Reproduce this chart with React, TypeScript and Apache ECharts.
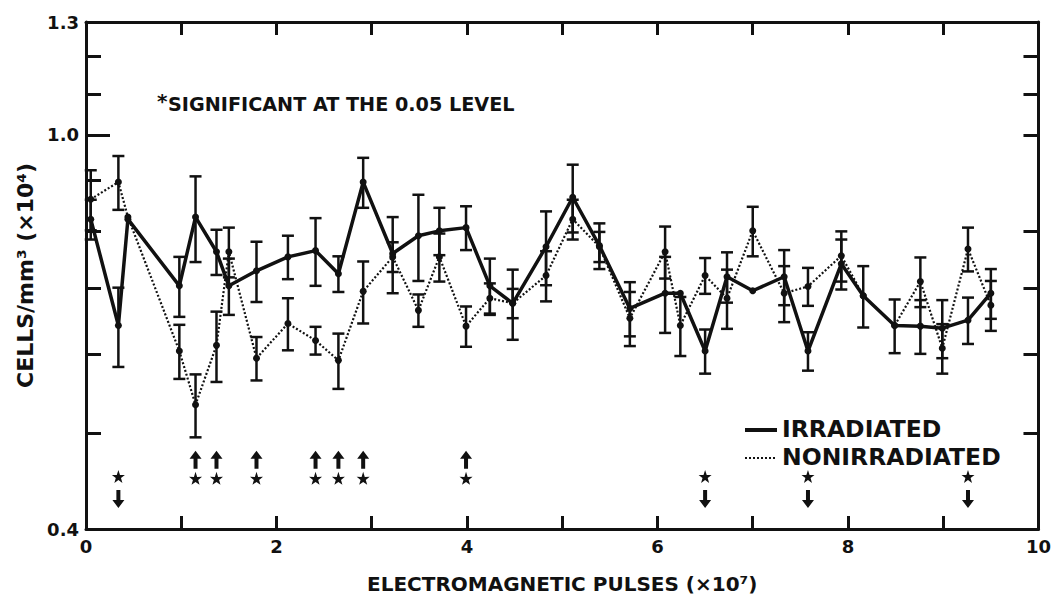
import React, { useEffect, useRef } from "react";
import * as echarts from "echarts";

// Electromagnetic pulses (x10^7)
const pulses = [0.05, 0.34, 0.44, 0.98, 1.15, 1.37, 1.5, 1.79, 2.12, 2.41, 2.65, 2.91, 3.22, 3.49, 3.71, 3.99, 4.24, 4.48, 4.83, 5.11, 5.39, 5.71, 6.08, 6.24, 6.5, 6.73, 7.0, 7.33, 7.58, 7.93, 8.16, 8.49, 8.76, 8.99, 9.26, 9.5];
// Cells/mm^3 (x10^4)
const irradiated = [0.822, 0.642, 0.822, 0.704, 0.826, 0.762, 0.704, 0.729, 0.753, 0.764, 0.724, 0.896, 0.759, 0.791, 0.8, 0.806, 0.704, 0.676, 0.771, 0.865, 0.773, 0.668, 0.692, 0.692, 0.605, 0.719, 0.696, 0.719, 0.605, 0.741, 0.688, 0.642, 0.641, 0.638, 0.65, 0.692];
const irradiatedErr = [0.038, 0.059, 0, 0.049, 0.082, 0.04, 0.046, 0.051, 0.038, 0.06, 0.03, 0.052, 0.067, 0.079, 0.044, 0.041, 0.046, 0.055, 0.066, 0.068, 0.041, 0.042, 0.061, 0, 0.031, 0.042, 0, 0.046, 0.027, 0.043, 0.049, 0.04, 0.04, 0.043, 0.035, 0.04];
const nonirradiated = [0.861, 0.896, 0.826, 0.605, 0.534, 0.613, 0.762, 0.595, 0.645, 0.62, 0.592, 0.695, 0.753, 0.665, 0.753, 0.641, 0.684, 0.676, 0.721, 0.822, 0.771, 0.653, 0.762, 0.642, 0.721, 0.684, 0.8, 0.692, 0.703, 0.755, 0.688, 0.642, 0.711, 0.609, 0.767, 0.673];
const nonirradiatedErr = [0.06, 0.056, 0, 0.038, 0.039, 0.05, 0.044, 0.03, 0.039, 0.02, 0.038, 0.05, 0.026, 0.025, 0.042, 0.03, 0.024, 0.023, 0.042, 0.038, 0.027, 0.041, 0.046, 0.044, 0.03, 0.047, 0.046, 0.045, 0.031, 0.044, 0, 0, 0.041, 0.035, 0.039, 0.039];
// significant at 0.05: irradiated higher (up) / lower (down)
const sigHigher = [1.15, 1.37, 1.79, 2.41, 2.65, 2.91, 3.99];
const sigLower = [0.34, 6.5, 7.58, 9.26];
// axis ticks
const yTickValues = [0.5, 0.6, 0.7, 0.8, 0.9, 1.1, 1.2];
const yRightTickValues = [0.5, 0.6, 0.7, 0.8, 1.0, 1.1, 1.2];
const yLabelValues = [0.4, 1.0, 1.3];

const FONT = '"DejaVu Sans", sans-serif';
const INK = "#111";

const STAR = "path://M50,0 L61.8,35.4 L97.6,34.5 L69,56.5 L79.4,90.5 L50,70 L20.6,90.5 L31,56.5 L2.4,34.5 L38.2,35.4 Z";
const ARROW = "path://M6,0 L12,8 L8,8 L8,18 L4,18 L4,8 L0,8 Z";

function errData(vals: number[], errs: number[]) {
  return pulses
    .map((x, i) => [x, vals[i] - errs[i], vals[i] + errs[i], errs[i]])
    .filter((d) => d[3] > 0);
}

const renderErr = (params: any, api: any) => {
  const x = api.value(0);
  const lo = api.value(1);
  const hi = api.value(2);
  const t = api.coord([x, hi]);
  const b = api.coord([x, lo]);
  const hw = 6;
  const st = { stroke: INK, lineWidth: 2.5 };
  return {
    type: "group",
    children: [
      { type: "line", shape: { x1: t[0], y1: t[1], x2: b[0], y2: b[1] }, style: st },
      { type: "line", shape: { x1: t[0] - hw, y1: t[1], x2: t[0] + hw, y2: t[1] }, style: st },
      { type: "line", shape: { x1: b[0] - hw, y1: b[1], x2: b[0] + hw, y2: b[1] }, style: st },
    ],
  };
};

export default function App() {
  const ref = useRef<HTMLDivElement>(null);
  useEffect(() => {
    if (!ref.current) return;
    const chart = echarts.init(ref.current, undefined, { renderer: "svg" });
    const axisLine = { show: true, onZero: false, lineStyle: { color: INK, width: 3 } };
    const markStyle = { color: INK, opacity: 1 };
    const option: any = {
      animation: false,
      backgroundColor: "#fff",
      grid: { left: 86, right: 14, top: 22, bottom: 67, containLabel: false },
      xAxis: [
        {
          type: "value", min: 0, max: 10, interval: 1, position: "bottom",
          axisLine,
          axisTick: { show: true, inside: true, length: 13, lineStyle: { color: INK, width: 3 } },
          axisLabel: {
            color: INK, fontFamily: FONT, fontWeight: "bold", fontSize: 18, margin: 8,
            formatter: (v: number) => (Math.round(v) % 2 === 0 ? String(Math.round(v)) : ""),
          },
          splitLine: { show: false },
          name: "ELECTROMAGNETIC PULSES (×10⁷)", nameLocation: "middle", nameGap: 45,
          nameTextStyle: { color: INK, fontFamily: FONT, fontWeight: "bold", fontSize: 20 },
        },
        {
          type: "value", min: 0, max: 10, interval: 1, position: "top",
          axisLine,
          axisTick: { show: true, inside: true, length: 13, lineStyle: { color: INK, width: 3 } },
          axisLabel: { show: false }, splitLine: { show: false },
        },
      ],
      yAxis: [
        {
          type: "log", min: 0.4, max: 1.3, position: "left",
          axisLine,
          axisTick: { show: true, inside: true, length: 15, customValues: yTickValues, lineStyle: { color: INK, width: 3 } },
          axisLabel: {
            customValues: yLabelValues, color: INK, fontFamily: FONT, fontWeight: "bold", fontSize: 18, margin: 7,
            formatter: (v: number) => v.toFixed(1),
          },
          minorTick: { show: false }, splitLine: { show: false },
          name: "CELLS/mm³ (×10⁴)", nameLocation: "middle", nameGap: 45, nameRotate: 90,
          nameTextStyle: { color: INK, fontFamily: FONT, fontWeight: "bold", fontSize: 22 },
        },
        {
          type: "log", min: 0.4, max: 1.3, position: "right",
          axisLine,
          axisTick: { show: true, inside: true, length: 15, customValues: yRightTickValues, lineStyle: { color: INK, width: 3 } },
          axisLabel: { show: false }, minorTick: { show: false }, splitLine: { show: false },
        },
        {
          type: "log", min: 0.4, max: 1.3, position: "left",
          axisLine: { show: false },
          axisTick: { show: true, inside: true, length: 24, customValues: [1.0], lineStyle: { color: INK, width: 3 } },
          axisLabel: { show: false }, minorTick: { show: false }, splitLine: { show: false },
        },
      ],
      series: [
        {
          name: "IRRADIATED", type: "line", xAxisIndex: 0, yAxisIndex: 0,
          data: pulses.map((x, i) => [x, irradiated[i]]),
          symbol: "circle", symbolSize: 7, showSymbol: true,
          lineStyle: { color: INK, width: 3.5, type: "solid" },
          itemStyle: markStyle, z: 4,
        },
        {
          name: "NONIRRADIATED", type: "line", xAxisIndex: 0, yAxisIndex: 0,
          data: pulses.map((x, i) => [x, nonirradiated[i]]),
          symbol: "circle", symbolSize: 7, showSymbol: true,
          lineStyle: { color: INK, width: 2.2, type: [2, 2] },
          itemStyle: markStyle, z: 3,
        },
        {
          type: "custom", xAxisIndex: 0, yAxisIndex: 0, renderItem: renderErr,
          data: errData(irradiated, irradiatedErr), z: 2, silent: true,
        },
        {
          type: "custom", xAxisIndex: 0, yAxisIndex: 0, renderItem: renderErr,
          data: errData(nonirradiated, nonirradiatedErr), z: 2, silent: true,
        },
        {
          type: "scatter", xAxisIndex: 0, yAxisIndex: 0, symbol: ARROW, symbolSize: [12, 18],
          itemStyle: markStyle, data: sigHigher.map((x) => [x, 0.47]), silent: true,
        },
        {
          type: "scatter", xAxisIndex: 0, yAxisIndex: 0, symbol: STAR, symbolSize: 13,
          itemStyle: markStyle, data: sigHigher.map((x) => [x, 0.45]), silent: true,
        },
        {
          type: "scatter", xAxisIndex: 0, yAxisIndex: 0, symbol: STAR, symbolSize: 13,
          itemStyle: markStyle, data: sigLower.map((x) => [x, 0.452]), silent: true,
        },
        {
          type: "scatter", xAxisIndex: 0, yAxisIndex: 0, symbol: ARROW, symbolSize: [12, 18], symbolRotate: 180,
          itemStyle: markStyle, data: sigLower.map((x) => [x, 0.429]), silent: true,
        },
      ],
      graphic: [
        { type: "text", left: 157, top: 91, style: { text: "*", font: `bold 20px ${FONT}`, fill: INK } },
        { type: "text", left: 168, top: 95, style: { text: "SIGNIFICANT AT THE 0.05 LEVEL", font: `bold 19.2px ${FONT}`, fill: INK } },
        { type: "line", shape: { x1: 745, y1: 430, x2: 777, y2: 430 }, style: { stroke: INK, lineWidth: 4 } },
        { type: "line", shape: { x1: 745, y1: 458, x2: 777, y2: 458 }, style: { stroke: INK, lineWidth: 2, lineDash: [2, 2] } },
        { type: "text", left: 782, top: 417, style: { text: "IRRADIATED", font: `bold 23.5px ${FONT}`, fill: INK } },
        { type: "text", left: 782, top: 445, style: { text: "NONIRRADIATED", font: `bold 23.5px ${FONT}`, fill: INK } },
      ],
    };
    chart.setOption(option);
    return () => chart.dispose();
  }, []);
  return (
    <div
      ref={ref}
      style={{ position: "fixed", left: 0, top: 0, width: 1054, height: 599, background: "#fff" }}
    />
  );
}
